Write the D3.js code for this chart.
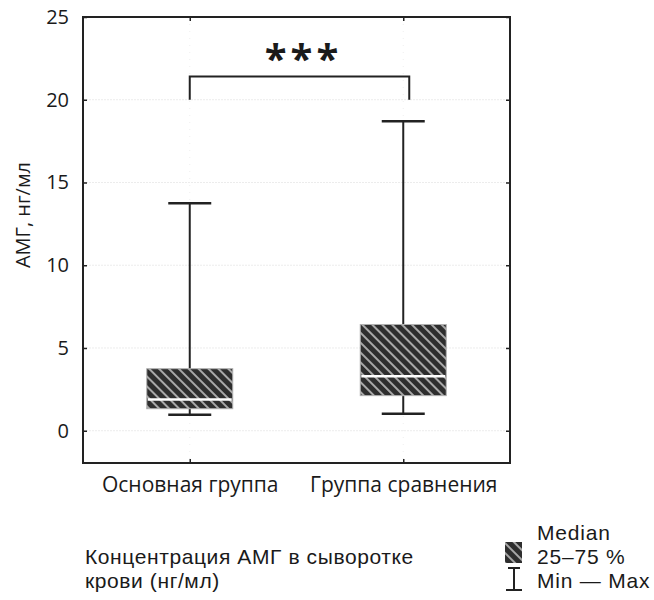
<!DOCTYPE html>
<html>
<head>
<meta charset="utf-8">
<script src="https://cdn.jsdelivr.net/npm/d3@7"></script>
<style>
  body { margin: 0; background: #fff; }
  text { font-family: "Open Sans", "Noto Sans", sans-serif; fill: #1a1a1a; }
  text.stack { font-family: "Liberation Sans", Arial, sans-serif; }
</style>
</head>
<body>
<svg id="chart" width="654" height="600"></svg>
<script>
// data
const groups = ["Основная группа", "Группа сравнения"];
const minVals = [0.97, 1.03];
const q1Vals = [1.33, 2.12];
const medianVals = [1.88, 3.29];
const q3Vals = [3.75, 6.42];
const maxVals = [13.75, 18.7];
const yTicks = [0, 5, 10, 15, 20, 25];
const bracketLevel = 21.4; // significance bracket
const bracketFoot = 20;
const captionLines = ["Концентрация АМГ в сыворотке", "крови (нг/мл)"];
const legendLabels = ["Median", "25–75 %", "Min — Max"];

const svg = d3.select("#chart");
const margin = {top: 17, left: 83, right: 144, bottom: 137};
const width = 654 - margin.left - margin.right;
const height = 600 - margin.top - margin.bottom;

//scales
const x = d3.scalePoint().domain(groups).range([0, width]).padding(0.5);
const y = d3.scaleLinear().domain([-1.95, 25]).range([height, 0]);

// stripe pattern for the boxes
const defs = svg.append("defs");
const pat = defs.append("pattern")
    .attr("id", "hatch")
    .attr("patternUnits", "userSpaceOnUse")
    .attr("width", 7).attr("height", 7)
    .attr("patternTransform", "rotate(-45)");
pat.append("rect").attr("width", 7).attr("height", 7).attr("fill", "#2e2e2e");
pat.append("rect").attr("x", 0).attr("width", 2).attr("height", 7).attr("fill", "#a8a8a8");

const g = svg.append("g").attr("transform", `translate(${margin.left},${margin.top})`);

// gridlines
g.append("g")
    .selectAll("line")
    .data(yTicks)
    .join("line")
    .attr("x1", 0).attr("x2", width)
    .attr("y1", d => y(d)).attr("y2", d => y(d))
    .attr("stroke", "#ececec")
    .attr("stroke-width", 1)
    .attr("stroke-dasharray", "2,1");

g.append("g")
    .selectAll("line")
    .data(groups)
    .join("line")
    .attr("x1", d => x(d)).attr("x2", d => x(d))
    .attr("y1", 0).attr("y2", height)
    .attr("stroke", "#efefef")
    .attr("stroke-dasharray", "1,6");

// axes (inward ticks)
const yAxis = g.append("g")
    .call(d3.axisLeft(y).tickValues(yTicks).tickSize(-4).tickPadding(14));
yAxis.select(".domain").remove();
yAxis.selectAll("line").attr("stroke", "#222").attr("stroke-width", 1.5);
yAxis.selectAll("text").attr("font-size", 20).attr("fill", "#1a1a1a")
    .style("font-family", "'Open Sans', sans-serif");

const yAxisR = g.append("g").attr("transform", `translate(${width},0)`)
    .call(d3.axisRight(y).tickValues(yTicks).tickSize(-4).tickFormat(""));
yAxisR.select(".domain").remove();
yAxisR.selectAll("line").attr("stroke", "#222").attr("stroke-width", 1.5);

const xAxis = g.append("g").attr("transform", `translate(0,${height})`)
    .call(d3.axisBottom(x).tickSize(-4).tickPadding(14));
xAxis.select(".domain").remove();
xAxis.selectAll("line").attr("stroke", "#222").attr("stroke-width", 1.5);
xAxis.selectAll("text").attr("font-size", 21).attr("fill", "#1a1a1a")
    .style("font-family", "'Open Sans', sans-serif");

const xAxisTop = g.append("g")
    .call(d3.axisTop(x).tickSize(-4).tickFormat(""));
xAxisTop.select(".domain").remove();
xAxisTop.selectAll("line").attr("stroke", "#222").attr("stroke-width", 1.5);

// frame
g.append("rect")
    .attr("width", width).attr("height", height)
    .attr("fill", "none").attr("stroke", "#222").attr("stroke-width", 2);

// boxes
const boxW = 86, capW = 43;
const box = g.selectAll(".box").data(groups).join("g").attr("class", "box");

box.append("line")
    .attr("x1", d => x(d)).attr("x2", d => x(d))
    .attr("y1", (d, i) => y(maxVals[i])).attr("y2", (d, i) => y(minVals[i]))
    .attr("stroke", "#222").attr("stroke-width", 2);
box.append("line")
    .attr("x1", d => x(d) - capW / 2).attr("x2", d => x(d) + capW / 2)
    .attr("y1", (d, i) => y(maxVals[i])).attr("y2", (d, i) => y(maxVals[i]))
    .attr("stroke", "#222").attr("stroke-width", 2.5);
box.append("line")
    .attr("x1", d => x(d) - capW / 2).attr("x2", d => x(d) + capW / 2)
    .attr("y1", (d, i) => y(minVals[i])).attr("y2", (d, i) => y(minVals[i]))
    .attr("stroke", "#222").attr("stroke-width", 2.5);
box.append("rect")
    .attr("x", d => x(d) - boxW / 2)
    .attr("width", boxW)
    .attr("y", (d, i) => y(q3Vals[i]))
    .attr("height", (d, i) => y(q1Vals[i]) - y(q3Vals[i]))
    .attr("fill", "url(#hatch)")
    .attr("stroke", "#b0b0b0").attr("stroke-width", 1);
box.append("line")
    .attr("x1", d => x(d) - boxW / 2 + 1).attr("x2", d => x(d) + boxW / 2 - 1)
    .attr("y1", (d, i) => y(medianVals[i])).attr("y2", (d, i) => y(medianVals[i]))
    .attr("stroke", "#fff").attr("stroke-width", 2.5);

// significance bracket
const bx1 = x(groups[0]), bx2 = x(groups[1]) + 6;
g.append("path")
    .attr("d", `M${bx1},${y(bracketFoot)}V${y(bracketLevel)}H${bx2}V${y(bracketFoot)}`)
    .attr("fill", "none").attr("stroke", "#222").attr("stroke-width", 2);
g.append("text")
    .attr("x", (bx1 + bx2) / 2 + 4)
    .attr("y", y(bracketLevel) - 4)
    .attr("text-anchor", "middle")
    .attr("font-size", 40)
    .attr("font-weight", "bold")
    .attr("letter-spacing", 4)
    .text("***");

// y axis title
svg.append("text")
    .attr("transform", "translate(30,215)rotate(-90)")
    .attr("text-anchor", "middle")
    .attr("font-size", 20)
    .text("АМГ, нг/мл");

// caption
svg.selectAll(".cap").data(captionLines).join("text")
    .attr("class", "cap stack")
    .attr("x", 85)
    .attr("y", (d, i) => 564 + i * 24)
    .attr("font-size", 21)
    .attr("letter-spacing", 0.6)
    .text(d => d);

// legend
const lg = svg.append("g").attr("transform", "translate(505,0)");
lg.append("rect").attr("x", 0).attr("y", 542).attr("width", 17).attr("height", 21)
    .attr("fill", "url(#hatch)");
lg.append("path").attr("d", "M3,568H15M9,568V590M1,590H17")
    .attr("fill", "none").attr("stroke", "#222").attr("stroke-width", 2);
lg.selectAll(".lt").data(legendLabels).join("text")
    .attr("class", "lt stack")
    .attr("x", 32)
    .attr("y", (d, i) => 540 + i * 24)
    .attr("font-size", 21)
    .attr("letter-spacing", 0.8)
    .text(d => d);
</script>
</body>
</html>
